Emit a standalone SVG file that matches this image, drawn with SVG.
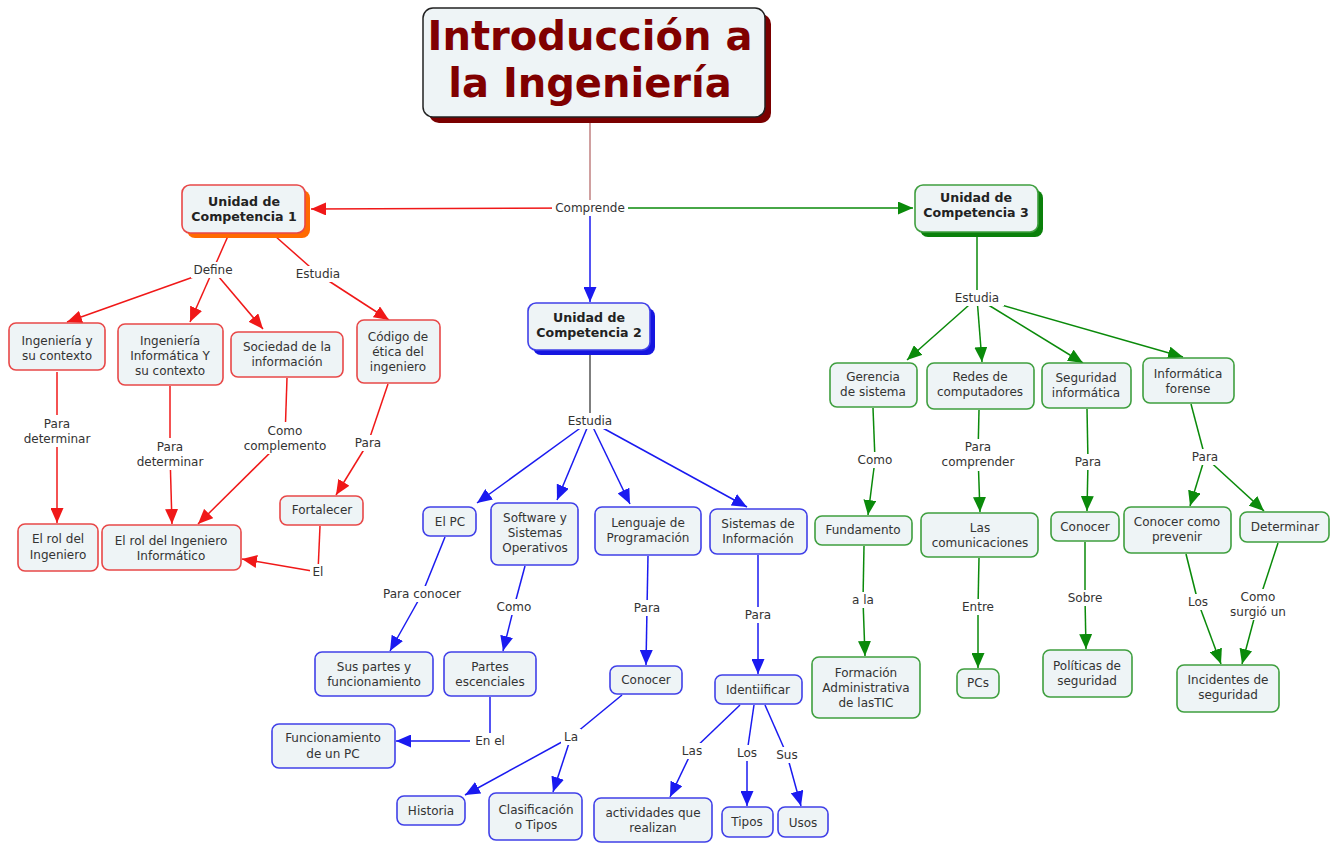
<svg xmlns="http://www.w3.org/2000/svg" width="1343" height="843" viewBox="0 0 1343 843">
<style>
text{font-family:"DejaVu Sans",Verdana,"Liberation Sans",sans-serif;font-size:12px;fill:#333;text-anchor:middle}
.n rect{fill:#eef4f6;stroke-width:1.6}
.r rect{stroke:#e84848}
.b rect{stroke:#4040e8}
.g rect{stroke:#3f9f3f}
.u text{font-weight:bold;fill:#222;font-size:12.6px}
.c{fill:none;stroke-width:1.5}
.cr{stroke:#f01818;marker-end:url(#ar)}
.cb{stroke:#1a1af0;marker-end:url(#ab)}
.cg{stroke:#0a8a0a;marker-end:url(#ag)}
.lb rect{fill:#fff}
</style>
<defs>
<marker id="ar" markerUnits="userSpaceOnUse" markerWidth="15" markerHeight="13" refX="15" refY="6.5" orient="auto"><path d="M0,0L15,6.5L0,13z" fill="#f01818"/></marker>
<marker id="ab" markerUnits="userSpaceOnUse" markerWidth="15" markerHeight="13" refX="15" refY="6.5" orient="auto"><path d="M0,0L15,6.5L0,13z" fill="#1a1af0"/></marker>
<marker id="ag" markerUnits="userSpaceOnUse" markerWidth="15" markerHeight="13" refX="15" refY="6.5" orient="auto"><path d="M0,0L15,6.5L0,13z" fill="#0a8a0a"/></marker>
</defs>
<rect width="1343" height="843" fill="#fff"/>

<g id="connectors">
<path class="c" d="M590,117L590,208" stroke="#c08080"/>
<path class="c cr" d="M590,208L311,209"/>
<path class="c cg" d="M590,208L913,208"/>
<path class="c cb" d="M590,208L590,302"/>
<path class="c" d="M228,236L213,270" stroke="#f01818"/>
<path class="c cr" d="M213,270L67,322"/>
<path class="c cr" d="M213,270L190,322"/>
<path class="c cr" d="M213,270L263,329"/>
<path class="c" d="M275,236L318,274" stroke="#f01818"/>
<path class="c cr" d="M318,274L389,320"/>
<path class="c" d="M57,372L57,431" stroke="#f01818"/>
<path class="c cr" d="M57,431L57,523"/>
<path class="c" d="M170,386L170,454" stroke="#f01818"/>
<path class="c cr" d="M170,454L172,524"/>
<path class="c" d="M287,378L285,438" stroke="#f01818"/>
<path class="c cr" d="M285,438L198,524"/>
<path class="c" d="M388,384L368,443" stroke="#f01818"/>
<path class="c cr" d="M368,443L336,495"/>
<path class="c" d="M320,526L318,572" stroke="#f01818"/>
<path class="c cr" d="M318,572L242,559"/>
<path class="c" d="M590,355L590,421" stroke="#555"/>
<path class="c cb" d="M590,421L477,503"/>
<path class="c cb" d="M590,421L557,500"/>
<path class="c cb" d="M590,421L630,504"/>
<path class="c cb" d="M590,421L747,507"/>
<path class="c" d="M445,537L422,594" stroke="#1a1af0"/>
<path class="c cb" d="M422,594L390,651"/>
<path class="c" d="M525,566L514,607" stroke="#1a1af0"/>
<path class="c cb" d="M514,607L503,651"/>
<path class="c" d="M490,697L490,741" stroke="#1a1af0"/>
<path class="c cb" d="M490,741L396,741"/>
<path class="c" d="M622,695L571,737" stroke="#1a1af0"/>
<path class="c cb" d="M571,737L465,795"/>
<path class="c cb" d="M571,737L553,792"/>
<path class="c" d="M648,556L647,608" stroke="#1a1af0"/>
<path class="c cb" d="M647,608L646,665"/>
<path class="c" d="M758,555L758,615" stroke="#1a1af0"/>
<path class="c cb" d="M758,615L758,674"/>
<path class="c" d="M740,705L692,751" stroke="#1a1af0"/>
<path class="c cb" d="M692,751L670,797"/>
<path class="c" d="M754,705L747,753" stroke="#1a1af0"/>
<path class="c cb" d="M747,753L747,806"/>
<path class="c" d="M765,705L787,755" stroke="#1a1af0"/>
<path class="c cb" d="M787,755L801,806"/>
<path class="c" d="M977,237L977,298" stroke="#0a8a0a"/>
<path class="c cg" d="M977,298L907,360"/>
<path class="c cg" d="M977,298L982,362"/>
<path class="c cg" d="M977,298L1083,363"/>
<path class="c cg" d="M977,298L1183,357"/>
<path class="c" d="M873,408L875,460" stroke="#0a8a0a"/>
<path class="c cg" d="M875,460L868,515"/>
<path class="c" d="M979,410L978,455" stroke="#0a8a0a"/>
<path class="c cg" d="M978,455L980,512"/>
<path class="c" d="M1087,409L1088,462" stroke="#0a8a0a"/>
<path class="c cg" d="M1088,462L1087,511"/>
<path class="c" d="M1191,404L1205,457" stroke="#0a8a0a"/>
<path class="c cg" d="M1205,457L1190,506"/>
<path class="c cg" d="M1205,457L1264,511"/>
<path class="c" d="M864,546L863,600" stroke="#0a8a0a"/>
<path class="c cg" d="M863,600L865,656"/>
<path class="c" d="M979,558L978,607" stroke="#0a8a0a"/>
<path class="c cg" d="M978,607L978,668"/>
<path class="c" d="M1085,542L1085,598" stroke="#0a8a0a"/>
<path class="c cg" d="M1085,598L1086,649"/>
<path class="c" d="M1186,554L1198,602" stroke="#0a8a0a"/>
<path class="c cg" d="M1198,602L1221,664"/>
<path class="c" d="M1278,543L1258,604" stroke="#0a8a0a"/>
<path class="c cg" d="M1258,604L1242,664"/>

<g class="lb"><rect x="552" y="200" width="76" height="16"/><text x="590" y="212">Comprende</text></g>
<g class="lb"><rect x="191" y="262" width="44" height="16"/><text x="213" y="274">Define</text></g>
<g class="lb"><rect x="291" y="266" width="54" height="16"/><text x="318" y="278">Estudia</text></g>
<g class="lb"><rect x="19" y="415" width="76" height="32"/><text x="57" y="428">Para</text><text x="57" y="443">determinar</text></g>
<g class="lb"><rect x="132" y="438" width="76" height="32"/><text x="170" y="451">Para</text><text x="170" y="466">determinar</text></g>
<g class="lb"><rect x="241" y="422" width="88" height="32"/><text x="285" y="435">Como</text><text x="285" y="450">complemento</text></g>
<g class="lb"><rect x="352" y="435" width="32" height="16"/><text x="368" y="447">Para</text></g>
<g class="lb"><rect x="310" y="564" width="16" height="16"/><text x="318" y="576">El</text></g>
<g class="lb"><rect x="563" y="413" width="54" height="16"/><text x="590" y="425">Estudia</text></g>
<g class="lb"><rect x="380" y="586" width="84" height="16"/><text x="422" y="598">Para conocer</text></g>
<g class="lb"><rect x="495" y="599" width="38" height="16"/><text x="514" y="611">Como</text></g>
<g class="lb"><rect x="470" y="733" width="40" height="16"/><text x="490" y="745">En el</text></g>
<g class="lb"><rect x="561" y="729" width="20" height="16"/><text x="571" y="741">La</text></g>
<g class="lb"><rect x="631" y="600" width="32" height="16"/><text x="647" y="612">Para</text></g>
<g class="lb"><rect x="742" y="607" width="32" height="16"/><text x="758" y="619">Para</text></g>
<g class="lb"><rect x="678" y="743" width="28" height="16"/><text x="692" y="755">Las</text></g>
<g class="lb"><rect x="733" y="745" width="28" height="16"/><text x="747" y="757">Los</text></g>
<g class="lb"><rect x="773" y="747" width="28" height="16"/><text x="787" y="759">Sus</text></g>
<g class="lb"><rect x="950" y="290" width="54" height="16"/><text x="977" y="302">Estudia</text></g>
<g class="lb"><rect x="856" y="452" width="38" height="16"/><text x="875" y="464">Como</text></g>
<g class="lb"><rect x="937" y="439" width="82" height="32"/><text x="978" y="451">Para</text><text x="978" y="466">comprender</text></g>
<g class="lb"><rect x="1072" y="454" width="32" height="16"/><text x="1088" y="466">Para</text></g>
<g class="lb"><rect x="1189" y="449" width="32" height="16"/><text x="1205" y="461">Para</text></g>
<g class="lb"><rect x="849" y="592" width="28" height="16"/><text x="863" y="604">a la</text></g>
<g class="lb"><rect x="958" y="599" width="40" height="16"/><text x="978" y="611">Entre</text></g>
<g class="lb"><rect x="1064" y="590" width="42" height="16"/><text x="1085" y="602">Sobre</text></g>
<g class="lb"><rect x="1184" y="594" width="28" height="16"/><text x="1198" y="606">Los</text></g>
<g class="lb"><rect x="1215" y="589" width="86" height="31"/><text x="1258" y="601">Como</text><text x="1258" y="616">surgió un</text></g>
</g>

<g id="title">
<rect x="429" y="14" width="342" height="109" rx="10" fill="#7a0000"/>
<rect x="423" y="8" width="342" height="109" rx="10" fill="#eef4f6" stroke="#222" stroke-width="1.5"/>
<text x="590" y="50" style="font-size:40px;font-weight:bold;fill:#800000">Introducción a</text>
<text x="590" y="97" style="font-size:40px;font-weight:bold;fill:#800000">la Ingeniería</text>
</g>

<g id="unidad1" class="n u">
<rect x="187" y="190" width="123" height="48" rx="8" style="fill:#ff6a00;stroke:none"/>
<rect x="182" y="185" width="123" height="48" rx="8" style="stroke:#e84848"/>
<text x="244" y="206">Unidad de</text><text x="244" y="221">Competencia 1</text>
</g>
<g id="unidad2" class="n u">
<rect x="533" y="308" width="122" height="47" rx="8" style="fill:#1515e0;stroke:none"/>
<rect x="528" y="303" width="122" height="47" rx="8" style="stroke:#4040e8"/>
<text x="589" y="322">Unidad de</text><text x="589" y="337">Competencia 2</text>
</g>
<g id="unidad3" class="n u">
<rect x="920" y="190" width="123" height="47" rx="8" style="fill:#0a800a;stroke:none"/>
<rect x="915" y="185" width="123" height="47" rx="8" style="stroke:#3f9f3f"/>
<text x="976" y="202">Unidad de</text><text x="976" y="217">Competencia 3</text>
</g>

<g id="ing_ctx" class="n r"><rect x="9" y="323" width="96" height="47" rx="7"/><text x="57" y="345">Ingeniería y</text><text x="57" y="360">su contexto</text></g>
<g id="ing_inf" class="n r"><rect x="118" y="324" width="105" height="61" rx="7"/><text x="170" y="345">Ingeniería</text><text x="170" y="360">Informática Y</text><text x="170" y="375">su contexto</text></g>
<g id="sociedad" class="n r"><rect x="231" y="332" width="112" height="45" rx="7"/><text x="287" y="351">Sociedad de la</text><text x="287" y="366">información</text></g>
<g id="codigo" class="n r"><rect x="357" y="320" width="83" height="63" rx="7"/><text x="398" y="341">Código de</text><text x="398" y="356">ética del</text><text x="398" y="371">ingeniero</text></g>
<g id="rol" class="n r"><rect x="18" y="524" width="80" height="47" rx="7"/><text x="58" y="543">El rol del</text><text x="58" y="559">Ingeniero</text></g>
<g id="rol_inf" class="n r"><rect x="102" y="525" width="139" height="45" rx="7"/><text x="171" y="545">El rol del Ingeniero</text><text x="171" y="560">Informático</text></g>
<g id="fortalecer" class="n r"><rect x="280" y="496" width="83" height="29" rx="7"/><text x="322" y="514">Fortalecer</text></g>

<g id="pc" class="n b"><rect x="423" y="507" width="53" height="29" rx="7"/><text x="450" y="526">El PC</text></g>
<g id="software" class="n b"><rect x="491" y="503" width="87" height="62" rx="7"/><text x="535" y="522">Software y</text><text x="535" y="537">Sistemas</text><text x="535" y="552">Operativos</text></g>
<g id="lenguaje" class="n b"><rect x="595" y="507" width="106" height="48" rx="7"/><text x="648" y="527">Lenguaje de</text><text x="648" y="542">Programación</text></g>
<g id="si" class="n b"><rect x="710" y="509" width="97" height="45" rx="7"/><text x="758" y="528">Sistemas de</text><text x="758" y="543">Información</text></g>
<g id="sus_partes" class="n b"><rect x="315" y="652" width="118" height="44" rx="7"/><text x="374" y="671">Sus partes y</text><text x="374" y="686">funcionamiento</text></g>
<g id="partes" class="n b"><rect x="444" y="652" width="92" height="44" rx="7"/><text x="490" y="671">Partes</text><text x="490" y="686">escenciales</text></g>
<g id="funcionamiento" class="n b"><rect x="272" y="724" width="123" height="44" rx="7"/><text x="333" y="742">Funcionamiento</text><text x="333" y="758">de un PC</text></g>
<g id="conocer_b" class="n b"><rect x="610" y="666" width="72" height="28" rx="7"/><text x="646" y="684">Conocer</text></g>
<g id="identificar" class="n b"><rect x="715" y="675" width="87" height="29" rx="7"/><text x="758" y="694">Identiificar</text></g>
<g id="historia" class="n b"><rect x="397" y="796" width="68" height="29" rx="7"/><text x="431" y="815">Historia</text></g>
<g id="clasificacion" class="n b"><rect x="489" y="793" width="93" height="47" rx="7"/><text x="536" y="814">Clasificación</text><text x="536" y="829">o Tipos</text></g>
<g id="actividades" class="n b"><rect x="594" y="798" width="118" height="44" rx="7"/><text x="653" y="817">actividades que</text><text x="653" y="832">realizan</text></g>
<g id="tipos" class="n b"><rect x="722" y="807" width="51" height="30" rx="7"/><text x="747" y="826">Tipos</text></g>
<g id="usos" class="n b"><rect x="778" y="807" width="50" height="30" rx="7"/><text x="803" y="827">Usos</text></g>

<g id="gerencia" class="n g"><rect x="830" y="363" width="87" height="44" rx="7"/><text x="873" y="381">Gerencia</text><text x="873" y="396">de sistema</text></g>
<g id="redes" class="n g"><rect x="927" y="363" width="107" height="46" rx="7"/><text x="980" y="381">Redes de</text><text x="980" y="396">computadores</text></g>
<g id="seguridad" class="n g"><rect x="1042" y="363" width="89" height="45" rx="7"/><text x="1086" y="382">Seguridad</text><text x="1086" y="397">informática</text></g>
<g id="forense" class="n g"><rect x="1143" y="358" width="91" height="45" rx="7"/><text x="1188" y="378">Informática</text><text x="1188" y="393">forense</text></g>
<g id="fundamento" class="n g"><rect x="815" y="516" width="97" height="29" rx="7"/><text x="863" y="534">Fundamento</text></g>
<g id="comunicaciones" class="n g"><rect x="921" y="513" width="117" height="44" rx="7"/><text x="980" y="532">Las</text><text x="980" y="547">comunicaciones</text></g>
<g id="conocer_g" class="n g"><rect x="1051" y="512" width="68" height="29" rx="7"/><text x="1085" y="531">Conocer</text></g>
<g id="prevenir" class="n g"><rect x="1124" y="507" width="107" height="46" rx="7"/><text x="1177" y="526">Conocer como</text><text x="1177" y="541">prevenir</text></g>
<g id="determinar" class="n g"><rect x="1240" y="512" width="89" height="30" rx="7"/><text x="1285" y="531">Determinar</text></g>
<g id="formacion" class="n g"><rect x="812" y="657" width="108" height="61" rx="7"/><text x="866" y="677">Formación</text><text x="866" y="692">Administrativa</text><text x="866" y="707">de lasTIC</text></g>
<g id="pcs" class="n g"><rect x="957" y="669" width="42" height="29" rx="7"/><text x="978" y="687">PCs</text></g>
<g id="politicas" class="n g"><rect x="1043" y="650" width="89" height="47" rx="7"/><text x="1087" y="670">Políticas de</text><text x="1087" y="685">seguridad</text></g>
<g id="incidentes" class="n g"><rect x="1177" y="665" width="102" height="47" rx="7"/><text x="1228" y="684">Incidentes de</text><text x="1228" y="699">seguridad</text></g>
</svg>
